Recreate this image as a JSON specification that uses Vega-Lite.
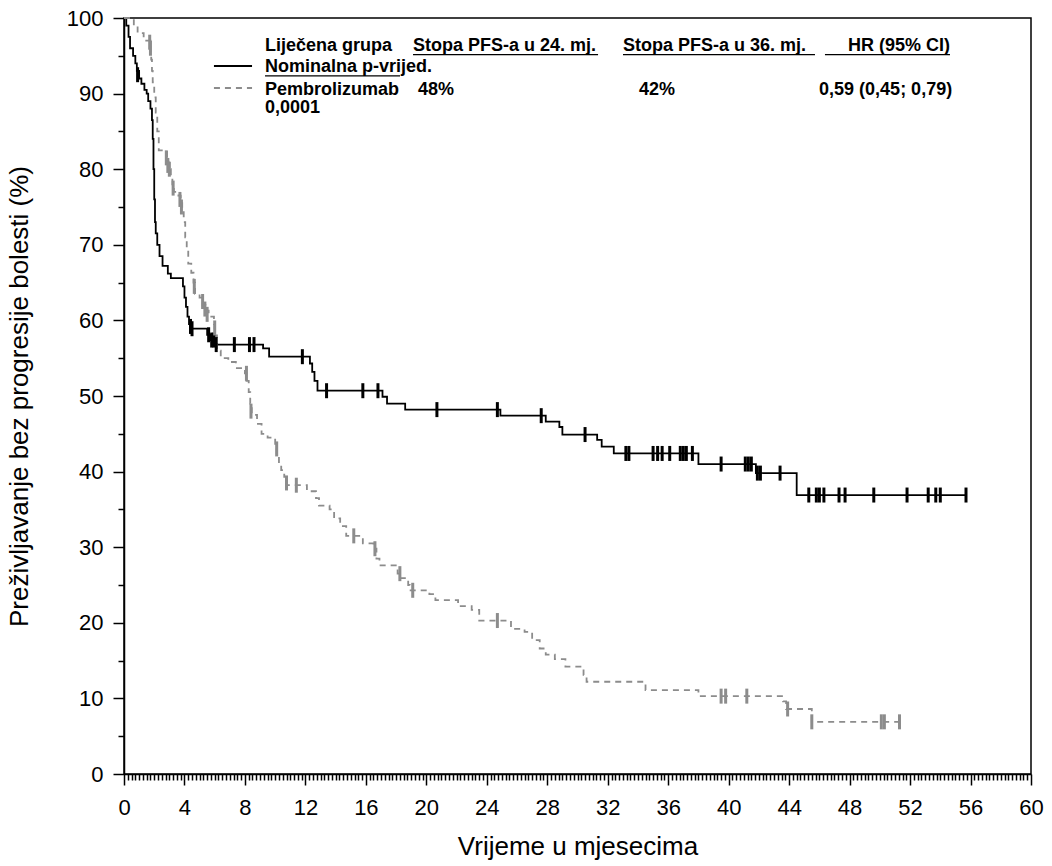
{
"$schema": "https://vega.github.io/schema/vega-lite/v6.json",
"width": 907, "height": 756,
"autosize": {"type": "none"},
"padding": {"left": 124, "top": 18, "right": 21, "bottom": 92},
"background": "white",
"config": {
 "view": {"stroke": "black", "strokeWidth": 1.5},
 "font": "Liberation Sans",
 "axis": {"grid": false, "domainColor": "black", "domainWidth": 1.5, "tickColor": "black", "tickWidth": 1.5,
  "labelFont": "Liberation Sans", "labelFontSize": 22, "labelColor": "black",
  "titleFont": "Liberation Sans", "titleFontSize": 26, "titleFontWeight": "normal", "titleColor": "black",
  "labelOverlap": false, "labelFlush": false}
},
"datasets": {
 "km": [
  {"grp":"Pembrolizumab","t":0,"s":100},{"grp":"Pembrolizumab","t":0.15,"s":99},{"grp":"Pembrolizumab","t":0.3,"s":97.5},{"grp":"Pembrolizumab","t":0.4,"s":96},{"grp":"Pembrolizumab","t":0.6,"s":95},{"grp":"Pembrolizumab","t":0.75,"s":94},{"grp":"Pembrolizumab","t":0.85,"s":93},{"grp":"Pembrolizumab","t":1.0,"s":92},{"grp":"Pembrolizumab","t":1.15,"s":91.3},{"grp":"Pembrolizumab","t":1.35,"s":90.5},{"grp":"Pembrolizumab","t":1.5,"s":90},{"grp":"Pembrolizumab","t":1.6,"s":89},{"grp":"Pembrolizumab","t":1.75,"s":88},{"grp":"Pembrolizumab","t":1.85,"s":86.5},{"grp":"Pembrolizumab","t":1.9,"s":84},{"grp":"Pembrolizumab","t":1.95,"s":80},{"grp":"Pembrolizumab","t":2.0,"s":76},{"grp":"Pembrolizumab","t":2.05,"s":73},{"grp":"Pembrolizumab","t":2.1,"s":71.5},{"grp":"Pembrolizumab","t":2.2,"s":70},{"grp":"Pembrolizumab","t":2.35,"s":68.5},{"grp":"Pembrolizumab","t":2.55,"s":67.2},{"grp":"Pembrolizumab","t":2.9,"s":66.2},{"grp":"Pembrolizumab","t":3.1,"s":65.6},{"grp":"Pembrolizumab","t":3.9,"s":64.5},{"grp":"Pembrolizumab","t":4.0,"s":63},{"grp":"Pembrolizumab","t":4.1,"s":61.8},{"grp":"Pembrolizumab","t":4.2,"s":60.5},{"grp":"Pembrolizumab","t":4.3,"s":59.5},{"grp":"Pembrolizumab","t":4.45,"s":58.9},{"grp":"Pembrolizumab","t":5.5,"s":58.1},{"grp":"Pembrolizumab","t":5.75,"s":57.4},{"grp":"Pembrolizumab","t":6.05,"s":56.8},{"grp":"Pembrolizumab","t":9.2,"s":56.3},{"grp":"Pembrolizumab","t":9.6,"s":55.2},{"grp":"Pembrolizumab","t":12.3,"s":54.3},{"grp":"Pembrolizumab","t":12.45,"s":53.2},{"grp":"Pembrolizumab","t":12.6,"s":52},{"grp":"Pembrolizumab","t":12.8,"s":50.7},{"grp":"Pembrolizumab","t":17.1,"s":49.9},{"grp":"Pembrolizumab","t":17.4,"s":49.0},{"grp":"Pembrolizumab","t":18.6,"s":48.2},{"grp":"Pembrolizumab","t":24.9,"s":47.4},{"grp":"Pembrolizumab","t":27.9,"s":46.6},{"grp":"Pembrolizumab","t":28.8,"s":45.9},{"grp":"Pembrolizumab","t":29.0,"s":44.9},{"grp":"Pembrolizumab","t":31.3,"s":44.2},{"grp":"Pembrolizumab","t":31.6,"s":43.3},{"grp":"Pembrolizumab","t":32.4,"s":42.4},{"grp":"Pembrolizumab","t":38.0,"s":41.0},{"grp":"Pembrolizumab","t":41.8,"s":39.8},{"grp":"Pembrolizumab","t":44.5,"s":36.9},{"grp":"Pembrolizumab","t":55.7,"s":36.9},
  {"grp":"Placebo","t":0,"s":100},{"grp":"Placebo","t":0.65,"s":99},{"grp":"Placebo","t":0.9,"s":98},{"grp":"Placebo","t":1.3,"s":97},{"grp":"Placebo","t":1.75,"s":95.5},{"grp":"Placebo","t":1.8,"s":94.5},{"grp":"Placebo","t":1.85,"s":93},{"grp":"Placebo","t":1.9,"s":91.5},{"grp":"Placebo","t":2.0,"s":89.5},{"grp":"Placebo","t":2.1,"s":87.5},{"grp":"Placebo","t":2.2,"s":85},{"grp":"Placebo","t":2.3,"s":82.5},{"grp":"Placebo","t":2.85,"s":81},{"grp":"Placebo","t":2.95,"s":80},{"grp":"Placebo","t":3.1,"s":79},{"grp":"Placebo","t":3.2,"s":78},{"grp":"Placebo","t":3.3,"s":77},{"grp":"Placebo","t":3.6,"s":76.5},{"grp":"Placebo","t":3.75,"s":75.5},{"grp":"Placebo","t":3.85,"s":74.5},{"grp":"Placebo","t":3.95,"s":73},{"grp":"Placebo","t":4.05,"s":71},{"grp":"Placebo","t":4.15,"s":69.5},{"grp":"Placebo","t":4.25,"s":67.5},{"grp":"Placebo","t":4.45,"s":66.3},{"grp":"Placebo","t":4.6,"s":65},{"grp":"Placebo","t":4.7,"s":63.5},{"grp":"Placebo","t":5.0,"s":63},{"grp":"Placebo","t":5.2,"s":62},{"grp":"Placebo","t":5.4,"s":61.3},{"grp":"Placebo","t":5.6,"s":60.5},{"grp":"Placebo","t":5.95,"s":59.5},{"grp":"Placebo","t":6.0,"s":58},{"grp":"Placebo","t":6.15,"s":56},{"grp":"Placebo","t":6.4,"s":55},{"grp":"Placebo","t":6.9,"s":54.5},{"grp":"Placebo","t":7.4,"s":53.7},{"grp":"Placebo","t":8.0,"s":53},{"grp":"Placebo","t":8.1,"s":52},{"grp":"Placebo","t":8.25,"s":50.5},{"grp":"Placebo","t":8.35,"s":49},{"grp":"Placebo","t":8.45,"s":47.5},{"grp":"Placebo","t":8.8,"s":46.3},{"grp":"Placebo","t":9.1,"s":45},{"grp":"Placebo","t":9.5,"s":44.5},{"grp":"Placebo","t":10.0,"s":43.5},{"grp":"Placebo","t":10.1,"s":42},{"grp":"Placebo","t":10.25,"s":41},{"grp":"Placebo","t":10.4,"s":40.2},{"grp":"Placebo","t":10.6,"s":39.3},{"grp":"Placebo","t":10.75,"s":38.2},{"grp":"Placebo","t":12.1,"s":37.4},{"grp":"Placebo","t":12.7,"s":36.5},{"grp":"Placebo","t":12.9,"s":35.5},{"grp":"Placebo","t":13.6,"s":35},{"grp":"Placebo","t":13.9,"s":33.8},{"grp":"Placebo","t":14.3,"s":32.8},{"grp":"Placebo","t":14.7,"s":31.5},{"grp":"Placebo","t":15.8,"s":30.5},{"grp":"Placebo","t":16.5,"s":29.8},{"grp":"Placebo","t":16.7,"s":28.5},{"grp":"Placebo","t":16.9,"s":27.6},{"grp":"Placebo","t":18.1,"s":26.5},{"grp":"Placebo","t":18.3,"s":25.9},{"grp":"Placebo","t":18.8,"s":25},{"grp":"Placebo","t":18.9,"s":24.3},{"grp":"Placebo","t":20.2,"s":23.8},{"grp":"Placebo","t":20.6,"s":23},{"grp":"Placebo","t":22.1,"s":22.2},{"grp":"Placebo","t":23.0,"s":21.7},{"grp":"Placebo","t":23.5,"s":20.3},{"grp":"Placebo","t":25.6,"s":19.2},{"grp":"Placebo","t":26.5,"s":18.8},{"grp":"Placebo","t":27.0,"s":17.7},{"grp":"Placebo","t":27.5,"s":16.6},{"grp":"Placebo","t":27.9,"s":15.8},{"grp":"Placebo","t":28.5,"s":15.2},{"grp":"Placebo","t":29.2,"s":14.2},{"grp":"Placebo","t":30.4,"s":13.1},{"grp":"Placebo","t":30.6,"s":12.2},{"grp":"Placebo","t":34.5,"s":11.1},{"grp":"Placebo","t":38.0,"s":10.3},{"grp":"Placebo","t":43.6,"s":9.6},{"grp":"Placebo","t":43.8,"s":8.6},{"grp":"Placebo","t":45.5,"s":6.9},{"grp":"Placebo","t":51.3,"s":6.9}
 ],
 "cens": [
  {"grp":"Pembrolizumab","t":0.9,"s":92.5},{"grp":"Pembrolizumab","t":4.4,"s":59.2},{"grp":"Pembrolizumab","t":4.5,"s":58.9},{"grp":"Pembrolizumab","t":5.6,"s":58.1},{"grp":"Pembrolizumab","t":5.8,"s":57.4},{"grp":"Pembrolizumab","t":5.95,"s":57.4},{"grp":"Pembrolizumab","t":6.1,"s":56.8},{"grp":"Pembrolizumab","t":7.3,"s":56.8},{"grp":"Pembrolizumab","t":8.3,"s":56.8},{"grp":"Pembrolizumab","t":8.6,"s":56.8},{"grp":"Pembrolizumab","t":11.8,"s":55.2},{"grp":"Pembrolizumab","t":13.4,"s":50.7},{"grp":"Pembrolizumab","t":15.8,"s":50.7},{"grp":"Pembrolizumab","t":16.8,"s":50.7},{"grp":"Pembrolizumab","t":20.7,"s":48.2},{"grp":"Pembrolizumab","t":24.7,"s":48.2},{"grp":"Pembrolizumab","t":27.6,"s":47.4},{"grp":"Pembrolizumab","t":30.5,"s":44.9},{"grp":"Pembrolizumab","t":33.2,"s":42.4},{"grp":"Pembrolizumab","t":33.4,"s":42.4},{"grp":"Pembrolizumab","t":35.0,"s":42.4},{"grp":"Pembrolizumab","t":35.3,"s":42.4},{"grp":"Pembrolizumab","t":35.6,"s":42.4},{"grp":"Pembrolizumab","t":36.1,"s":42.4},{"grp":"Pembrolizumab","t":36.8,"s":42.4},{"grp":"Pembrolizumab","t":37.0,"s":42.4},{"grp":"Pembrolizumab","t":37.2,"s":42.4},{"grp":"Pembrolizumab","t":37.6,"s":42.4},{"grp":"Pembrolizumab","t":39.5,"s":41.0},{"grp":"Pembrolizumab","t":41.1,"s":41.0},{"grp":"Pembrolizumab","t":41.3,"s":41.0},{"grp":"Pembrolizumab","t":41.5,"s":41.0},{"grp":"Pembrolizumab","t":41.9,"s":39.8},{"grp":"Pembrolizumab","t":42.1,"s":39.8},{"grp":"Pembrolizumab","t":43.4,"s":39.8},{"grp":"Pembrolizumab","t":45.3,"s":36.9},{"grp":"Pembrolizumab","t":45.8,"s":36.9},{"grp":"Pembrolizumab","t":46.0,"s":36.9},{"grp":"Pembrolizumab","t":46.3,"s":36.9},{"grp":"Pembrolizumab","t":47.3,"s":36.9},{"grp":"Pembrolizumab","t":47.7,"s":36.9},{"grp":"Pembrolizumab","t":49.6,"s":36.9},{"grp":"Pembrolizumab","t":51.8,"s":36.9},{"grp":"Pembrolizumab","t":53.2,"s":36.9},{"grp":"Pembrolizumab","t":53.7,"s":36.9},{"grp":"Pembrolizumab","t":54.0,"s":36.9},{"grp":"Pembrolizumab","t":55.7,"s":36.9},
  {"grp":"Placebo","t":1.7,"s":96.8},{"grp":"Placebo","t":1.75,"s":96},{"grp":"Placebo","t":2.8,"s":81.5},{"grp":"Placebo","t":2.9,"s":80.5},{"grp":"Placebo","t":3.0,"s":80},{"grp":"Placebo","t":3.25,"s":77.5},{"grp":"Placebo","t":3.7,"s":76},{"grp":"Placebo","t":3.8,"s":75},{"grp":"Placebo","t":4.65,"s":64.5},{"grp":"Placebo","t":5.2,"s":62.5},{"grp":"Placebo","t":5.35,"s":61.5},{"grp":"Placebo","t":5.5,"s":60.8},{"grp":"Placebo","t":6.0,"s":59},{"grp":"Placebo","t":8.1,"s":53},{"grp":"Placebo","t":8.4,"s":48},{"grp":"Placebo","t":10.1,"s":43},{"grp":"Placebo","t":10.75,"s":38.5},{"grp":"Placebo","t":11.4,"s":38.2},{"grp":"Placebo","t":15.2,"s":31.5},{"grp":"Placebo","t":16.6,"s":29.8},{"grp":"Placebo","t":18.25,"s":26.5},{"grp":"Placebo","t":19.1,"s":24.3},{"grp":"Placebo","t":24.7,"s":20.3},{"grp":"Placebo","t":39.5,"s":10.3},{"grp":"Placebo","t":39.8,"s":10.3},{"grp":"Placebo","t":41.2,"s":10.3},{"grp":"Placebo","t":43.9,"s":8.6},{"grp":"Placebo","t":45.5,"s":6.9},{"grp":"Placebo","t":50.1,"s":6.9},{"grp":"Placebo","t":50.3,"s":6.9},{"grp":"Placebo","t":51.3,"s":6.9}
 ],
 "legtext": [
  {"t":9.33,"s":96.3,"label":"Liječena grupa"},
  {"t":19.12,"s":96.3,"label":"Stopa PFS-a u 24. mj."},
  {"t":33.01,"s":96.3,"label":"Stopa PFS-a u 36. mj."},
  {"t":47.89,"s":96.3,"label":"HR (95% CI)"},
  {"t":9.33,"s":93.55,"label":"Nominalna p-vrijed."},
  {"t":9.33,"s":90.5,"label":"Pembrolizumab"},
  {"t":19.45,"s":90.5,"label":"48%"},
  {"t":34.07,"s":90.5,"label":"42%"},
  {"t":45.98,"s":90.5,"label":"0,59 (0,45; 0,79)"},
  {"t":9.33,"s":88.1,"label":"0,0001"}
 ],
 "uline": [
  {"t":19.12,"t2":31.36,"s":95.15},
  {"t":33.01,"t2":45.71,"s":95.15},
  {"t":46.37,"t2":54.64,"s":95.15},
  {"t":9.33,"t2":18.26,"s":92.35}
 ],
 "legline": [
  {"grp":"Pembrolizumab","t":5.95,"t2":8.47,"s":93.65},
  {"grp":"Placebo","t":5.95,"t2":8.47,"s":90.74}
 ]
},
"encoding": {
 "x": {"field": "t", "type": "quantitative", "scale": {"domain": [0, 60], "nice": false, "zero": false},
  "axis": {"title": "Vrijeme u mjesecima", "titlePadding": 15, "labelPadding": 12,
   "values": [0,0.25,0.5,0.75,1,1.25,1.5,1.75,2,2.25,2.5,2.75,3,3.25,3.5,3.75,4,4.25,4.5,4.75,5,5.25,5.5,5.75,6,6.25,6.5,6.75,7,7.25,7.5,7.75,8,8.25,8.5,8.75,9,9.25,9.5,9.75,10,10.25,10.5,10.75,11,11.25,11.5,11.75,12,12.25,12.5,12.75,13,13.25,13.5,13.75,14,14.25,14.5,14.75,15,15.25,15.5,15.75,16,16.25,16.5,16.75,17,17.25,17.5,17.75,18,18.25,18.5,18.75,19,19.25,19.5,19.75,20,20.25,20.5,20.75,21,21.25,21.5,21.75,22,22.25,22.5,22.75,23,23.25,23.5,23.75,24,24.25,24.5,24.75,25,25.25,25.5,25.75,26,26.25,26.5,26.75,27,27.25,27.5,27.75,28,28.25,28.5,28.75,29,29.25,29.5,29.75,30,30.25,30.5,30.75,31,31.25,31.5,31.75,32,32.25,32.5,32.75,33,33.25,33.5,33.75,34,34.25,34.5,34.75,35,35.25,35.5,35.75,36,36.25,36.5,36.75,37,37.25,37.5,37.75,38,38.25,38.5,38.75,39,39.25,39.5,39.75,40,40.25,40.5,40.75,41,41.25,41.5,41.75,42,42.25,42.5,42.75,43,43.25,43.5,43.75,44,44.25,44.5,44.75,45,45.25,45.5,45.75,46,46.25,46.5,46.75,47,47.25,47.5,47.75,48,48.25,48.5,48.75,49,49.25,49.5,49.75,50,50.25,50.5,50.75,51,51.25,51.5,51.75,52,52.25,52.5,52.75,53,53.25,53.5,53.75,54,54.25,54.5,54.75,55,55.25,55.5,55.75,56,56.25,56.5,56.75,57,57.25,57.5,57.75,58,58.25,58.5,58.75,59,59.25,59.5,59.75,60],
   "labelExpr": "datum.value % 4 === 0 ? format(datum.value, 'd') : ''",
   "tickSize": {"condition": {"test": "datum.value % 4 === 0", "value": 11}, "value": 6}}},
 "y": {"field": "s", "type": "quantitative", "scale": {"domain": [0, 100], "nice": false},
  "axis": {"title": "Preživljavanje bez progresije bolesti (%)", "titlePadding": 34, "labelPadding": 10,
   "values": [0,5,10,15,20,25,30,35,40,45,50,55,60,65,70,75,80,85,90,95,100],
   "labelExpr": "datum.value % 10 === 0 ? format(datum.value, 'd') : ''",
   "tickSize": {"condition": {"test": "datum.value % 10 === 0", "value": 11}, "value": 6}}}
},
"layer": [
 {"data": {"name": "km"},
  "mark": {"type": "line", "interpolate": "step-after", "strokeWidth": 1.8},
  "encoding": {
   "color": {"field": "grp", "type": "nominal", "scale": {"domain": ["Pembrolizumab", "Placebo"], "range": ["#000000", "#8c8c8c"]}, "legend": null},
   "strokeDash": {"field": "grp", "type": "nominal", "scale": {"domain": ["Pembrolizumab", "Placebo"], "range": [[1, 0], [6, 5]]}, "legend": null}
  }},
 {"data": {"name": "cens"},
  "mark": {"type": "tick", "orient": "vertical", "size": 15, "thickness": 3, "opacity": 1},
  "encoding": {
   "color": {"field": "grp", "type": "nominal", "scale": {"domain": ["Pembrolizumab", "Placebo"], "range": ["#000000", "#8c8c8c"]}, "legend": null}
  }},
 {"data": {"name": "legline"},
  "mark": {"type": "rule", "strokeWidth": 1.8},
  "encoding": {
   "x2": {"field": "t2"},
   "color": {"field": "grp", "type": "nominal", "scale": {"domain": ["Pembrolizumab", "Placebo"], "range": ["#000000", "#8c8c8c"]}, "legend": null},
   "strokeDash": {"field": "grp", "type": "nominal", "scale": {"domain": ["Pembrolizumab", "Placebo"], "range": [[1, 0], [6, 5]]}, "legend": null}
  }},
 {"data": {"name": "uline"},
  "mark": {"type": "rule", "strokeWidth": 1.3, "color": "black"},
  "encoding": {"x2": {"field": "t2"}}},
 {"data": {"name": "legtext"},
  "mark": {"type": "text", "align": "left", "baseline": "middle", "font": "Liberation Sans", "fontWeight": "bold", "fontSize": 18, "color": "black"},
  "encoding": {"text": {"field": "label", "type": "nominal"}}}
]
}
